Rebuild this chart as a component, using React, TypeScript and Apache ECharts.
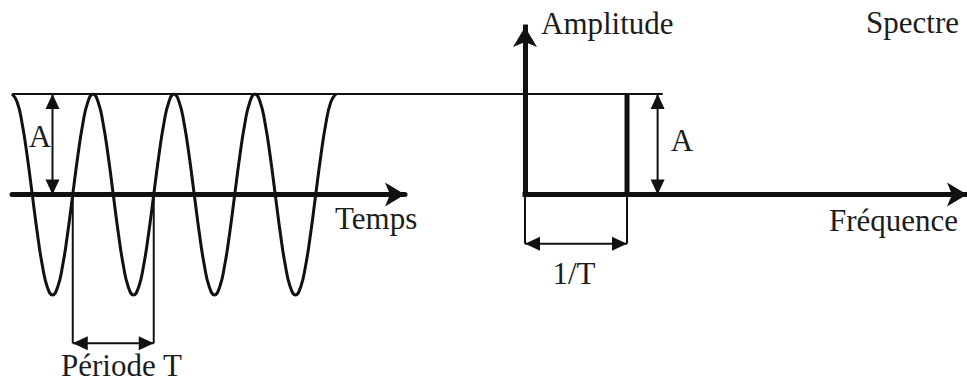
import React, { useEffect, useRef } from "react";
import * as echarts from "echarts";

// ---- Data ----
// time signal: one sample every 1/16 of a period, amplitude in units of A
const waveStep = 1 / 16;
const waveValues = [
  1, 0.924, 0.707, 0.383, 0, -0.383, -0.707, -0.924, -1, -0.924, -0.707, -0.383, 0, 0.383, 0.707, 0.924,
  1, 0.924, 0.707, 0.383, 0, -0.383, -0.707, -0.924, -1, -0.924, -0.707, -0.383, 0, 0.383, 0.707, 0.924,
  1, 0.924, 0.707, 0.383, 0, -0.383, -0.707, -0.924, -1, -0.924, -0.707, -0.383, 0, 0.383, 0.707, 0.924,
  1, 0.924, 0.707, 0.383, 0, -0.383, -0.707, -0.924, -1, -0.924, -0.707, -0.383, 0, 0.383, 0.707, 0.924,
  1,
];
// spectrum: one line at f = 1/T with amplitude A
const spectrumFreqs = [1];
const spectrumAmps = [1];

// axis extents
const timeMax = 4.852;
const timeAmpMin = -1.875;
const timeAmpMax = 1;
const freqMax = 4.333;
const freqAmpMax = 1.667;

// annotation anchors (data units)
const amplitudeMarkT = 0.5;
const periodStart = 0.75;
const periodEnd = 1.75;
const periodBracketY = -1.48;
const refLineEndF = 1.35;
const specAmpMarkF = 1.3;
const specBracketY = -0.49;

// texts
const labelTemps = "Temps";
const labelAmplitude = "Amplitude";
const labelSpectre = "Spectre";
const labelFrequence = "Fréquence";
const labelA = "A";
const labelPeriod = "Période T";
const labelInvT = "1/T";

const INK = "#111";
const TEXT = "#1c1c1c";
const FONT = "Liberation Serif";

export default function App() {
  const ref = useRef<HTMLDivElement>(null);

  useEffect(() => {
    const el = ref.current;
    if (!el) return;
    document.body.style.margin = "0";
    const chart = echarts.init(el, null, { renderer: "svg" });

    const axisArrow = {
      show: true,
      symbol: ["none", "arrow"],
      symbolSize: [18, 20],
      lineStyle: { color: INK, width: 5 },
    };
    const hidden = {
      axisTick: { show: false },
      axisLabel: { show: false },
      splitLine: { show: false },
    };

    chart.setOption({
      animation: false,
      backgroundColor: "#fff",
      grid: [
        { left: 12, right: 562, top: 94, bottom: 0, containLabel: false, outerBoundsMode: "none" },
        { left: 525, right: 0, top: 27, bottom: 188.5, containLabel: false, outerBoundsMode: "none" },
      ],
      xAxis: [
        { gridIndex: 0, type: "value", min: 0, max: timeMax, axisLine: { ...axisArrow, onZero: true }, ...hidden },
        { gridIndex: 1, type: "value", min: 0, max: freqMax, axisLine: { ...axisArrow, lineStyle: { color: INK, width: 5, cap: "square" } }, ...hidden },
      ],
      yAxis: [
        { gridIndex: 0, type: "value", min: timeAmpMin, max: timeAmpMax, axisLine: { show: false }, ...hidden },
        { gridIndex: 1, type: "value", min: 0, max: freqAmpMax, axisLine: { ...axisArrow, lineStyle: { color: INK, width: 5, cap: "square" } }, ...hidden },
      ],
      series: [
        {
          type: "line",
          xAxisIndex: 0,
          yAxisIndex: 0,
          data: waveValues.map((v, i) => [i * waveStep, v]),
          smooth: true,
          showSymbol: false,
          lineStyle: { color: INK, width: 3 },
          silent: true,
        },
        {
          type: "bar",
          xAxisIndex: 1,
          yAxisIndex: 1,
          data: spectrumFreqs.map((f, i) => [f, spectrumAmps[i]]),
          barWidth: 5,
          itemStyle: { color: INK },
          silent: true,
        },
      ],
    });

    const px0 = (x: number, y: number) => chart.convertToPixel({ gridIndex: 0 }, [x, y]) as number[];
    const px1 = (x: number, y: number) => chart.convertToPixel({ gridIndex: 1 }, [x, y]) as number[];

    const line = (a: number[], b: number[], w = 2) => ({
      type: "line",
      shape: { x1: a[0], y1: a[1], x2: b[0], y2: b[1] },
      style: { stroke: INK, lineWidth: w },
      silent: true,
    });
    const head = (tip: number[], from: number[]) => {
      const dx = tip[0] - from[0];
      const dy = tip[1] - from[1];
      const len = Math.hypot(dx, dy) || 1;
      const ux = dx / len, uy = dy / len;
      const L = 15, W = 7;
      const bx = tip[0] - ux * L, by = tip[1] - uy * L;
      return {
        type: "polygon",
        shape: { points: [[tip[0], tip[1]], [bx - uy * W, by + ux * W], [bx + uy * W, by - ux * W]] },
        style: { fill: INK },
        silent: true,
      };
    };
    const dimArrow = (a: number[], b: number[]) => [line(a, b, 2), head(a, b), head(b, a)];
    const text = (s: string, x: number, y: number, align: string) => ({
      type: "text",
      style: { text: s, x, y, fill: TEXT, fontSize: 31, fontFamily: FONT, align, verticalAlign: "middle" },
      silent: true,
    });

    const topStart = px0(0, 1);
    const topEnd = px1(refLineEndF, 1);

    const graphic: any[] = [
      line(topStart, topEnd, 2),
      // amplitude A on time signal
      ...dimArrow(px0(amplitudeMarkT, 1), px0(amplitudeMarkT, 0)),
      // period bracket
      line(px0(periodStart, 0), px0(periodStart, periodBracketY), 2),
      line(px0(periodEnd, 0), px0(periodEnd, periodBracketY), 2),
      ...dimArrow(px0(periodStart, periodBracketY), px0(periodEnd, periodBracketY)),
      // amplitude A on spectrum
      ...dimArrow(px1(specAmpMarkF, 1), px1(specAmpMarkF, 0)),
      // 1/T bracket
      line(px1(0, 0), px1(0, specBracketY), 2),
      line(px1(1, 0), px1(1, specBracketY), 2),
      ...dimArrow(px1(0, specBracketY), px1(1, specBracketY)),
      // texts
      text(labelTemps, 335, 218, "left"),
      text(labelAmplitude, 541, 23, "left"),
      text(labelSpectre, 959, 22, "right"),
      text(labelFrequence, 958, 220, "right"),
      text(labelA, 40, 136, "center"),
      text(labelA, 682, 140, "center"),
      text(labelInvT, 574, 273, "center"),
      text(labelPeriod, 61, 365, "left"),
    ];

    chart.setOption({ graphic });

    return () => chart.dispose();
  }, []);

  return <div ref={ref} style={{ position: "fixed", left: 0, top: 0, width: 967, height: 383 }} />;
}
